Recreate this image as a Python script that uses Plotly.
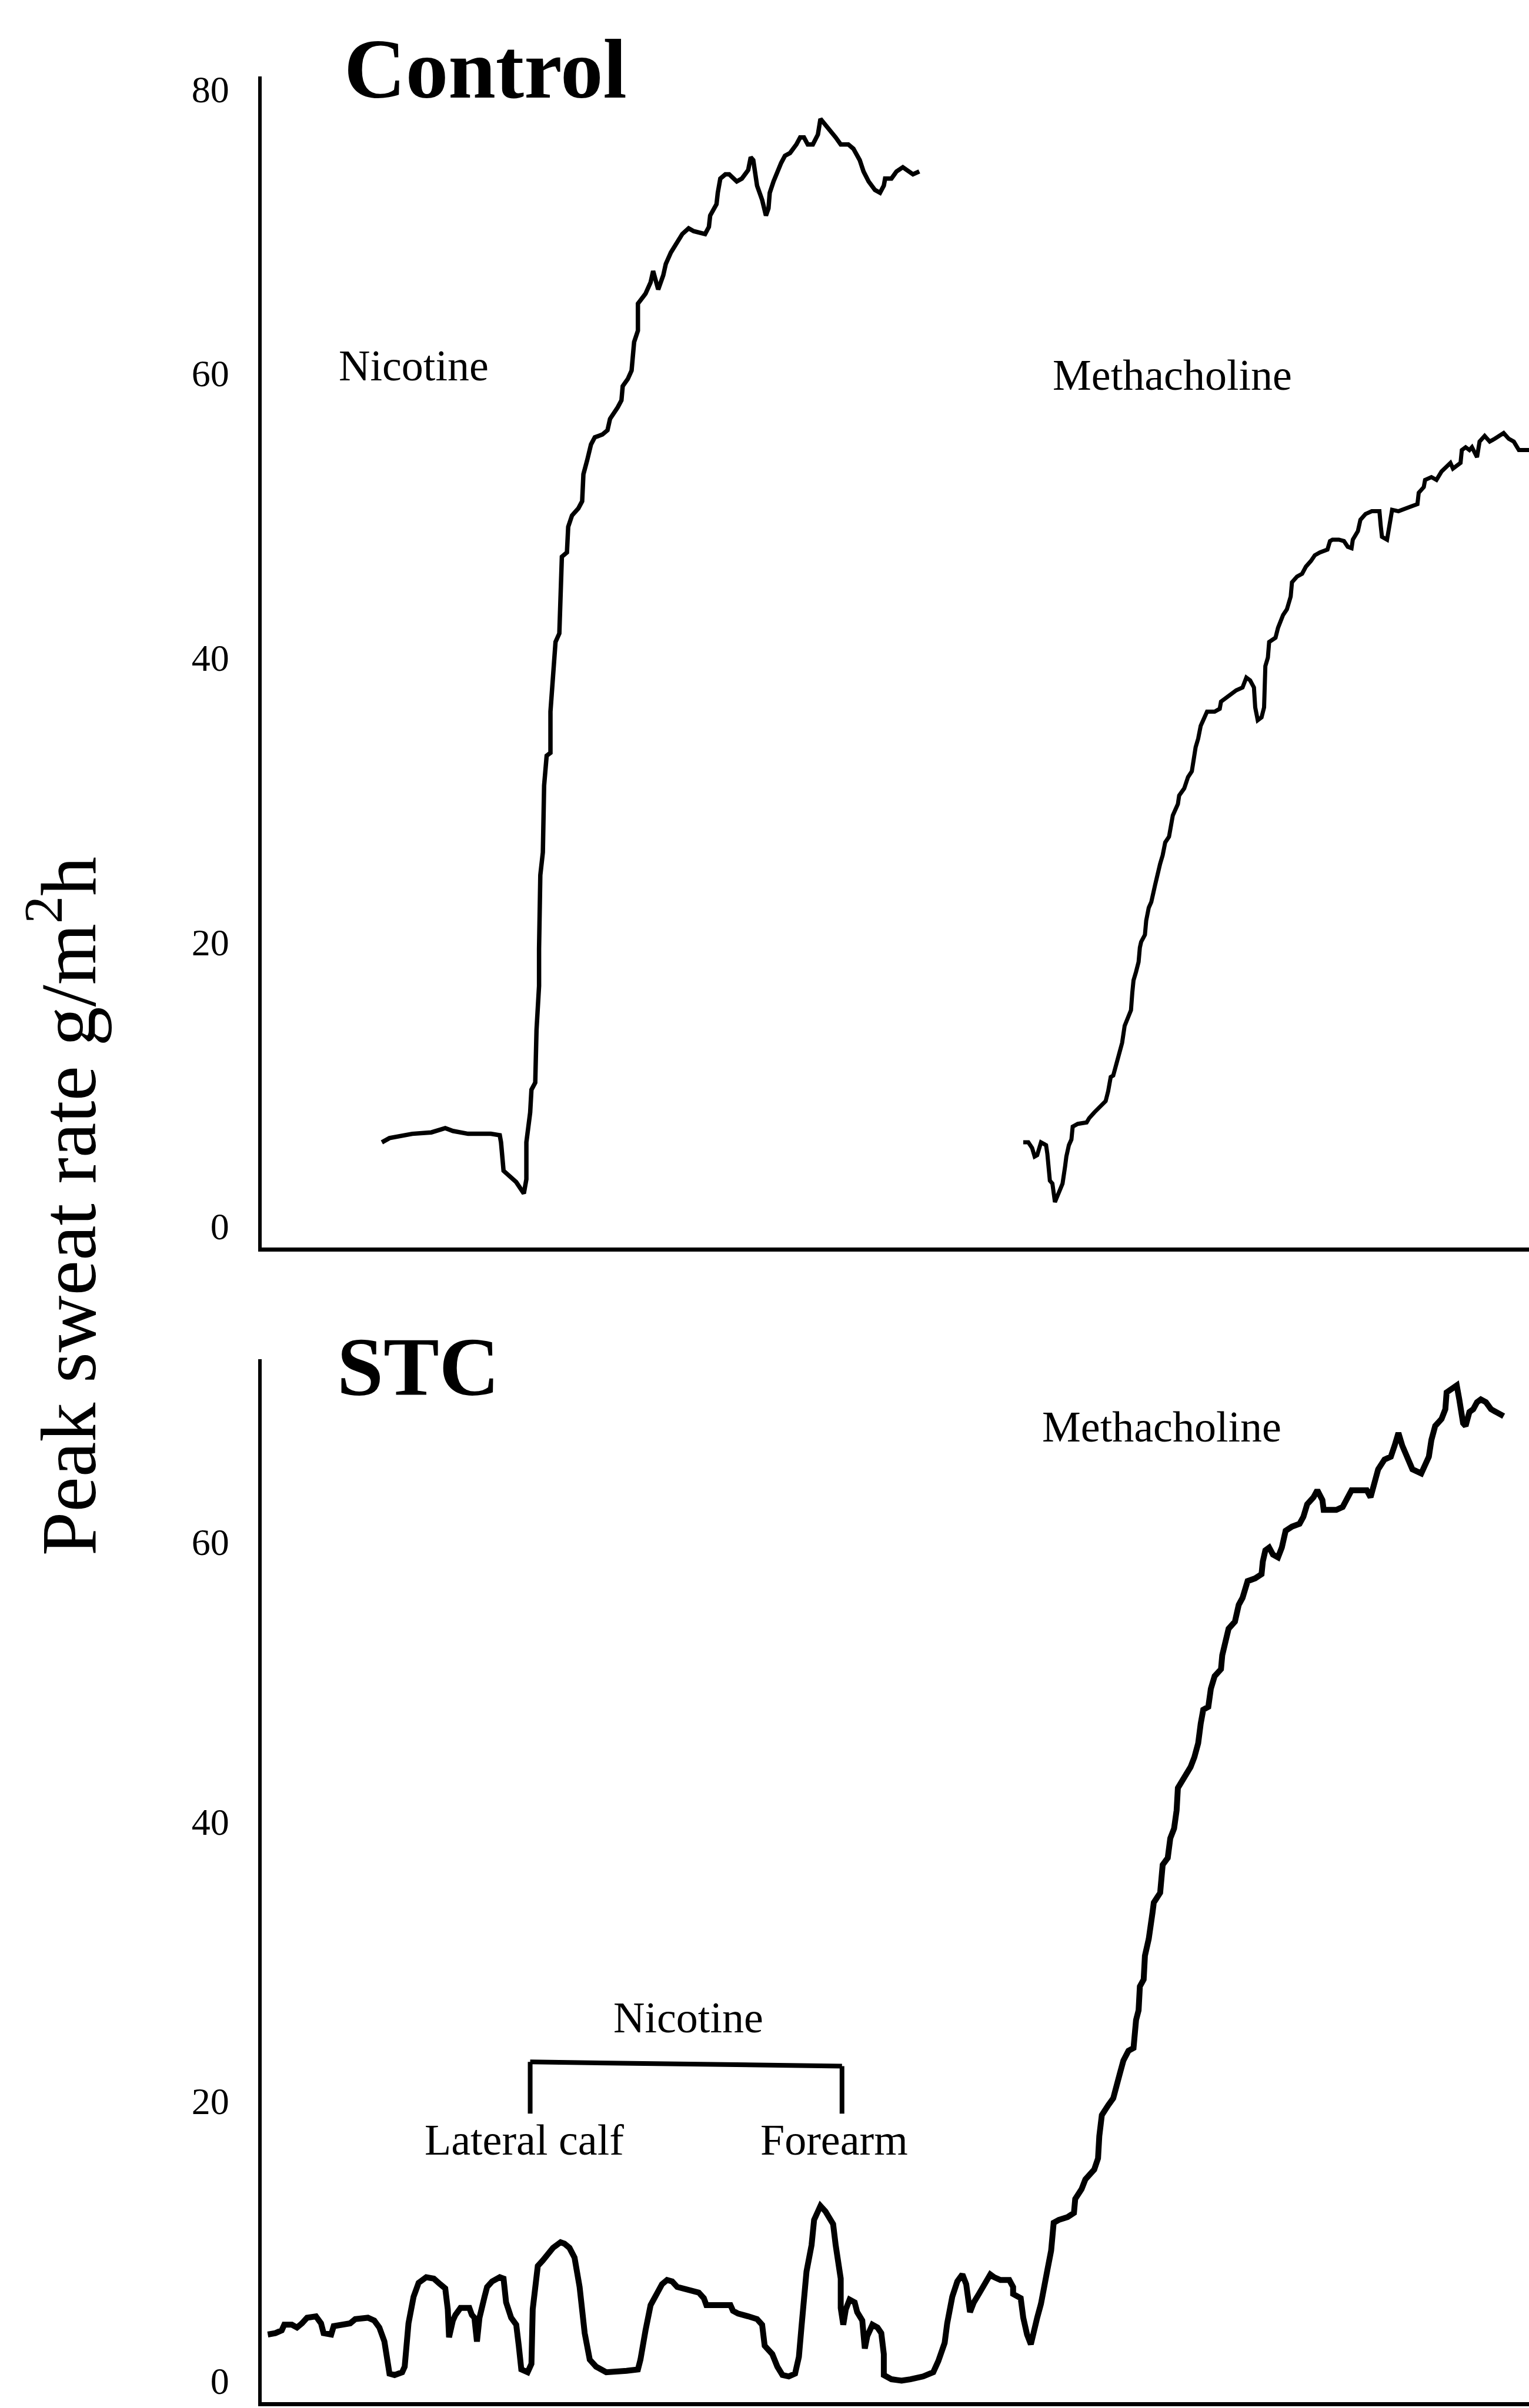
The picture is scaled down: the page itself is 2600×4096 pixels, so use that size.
import plotly.graph_objects as go

# ---- Control subject (top panel): time in arbitrary units, peak sweat rate in g/m2h ----
ctrl_nic_t = [
    9.5, 10.1, 11.9, 13.4, 14.5, 15.1, 16.3, 18.1, 18.8, 18.9,
    19.1, 19.5, 20.1, 20.7, 20.9, 20.9, 21.2, 21.3, 21.6, 21.7,
    21.9, 21.9, 22.0, 22.2, 22.3, 22.5, 22.8, 22.8, 23.1, 23.2,
    23.5, 23.6, 23.7, 24.1, 24.2, 24.5, 25.0, 25.3, 25.4, 25.7,
    26.0, 26.3, 26.9, 27.3, 27.5, 28.1, 28.4, 28.5, 28.9, 29.2,
    29.4, 29.7, 29.7, 30.3, 30.7, 30.9, 31.0, 31.3, 31.7, 31.9,
    32.3, 32.8, 33.2, 33.7, 34.1, 35.0, 35.3, 35.4, 35.9, 36.0,
    36.2, 36.6, 36.9, 37.5, 37.9, 38.4, 38.6, 38.8, 39.1, 39.5,
    39.8, 40.0, 40.1, 40.4, 40.7, 41.0, 41.3, 41.7, 42.2, 42.5,
    42.8, 43.1, 43.5, 43.9, 44.1, 44.4, 44.8, 45.3, 45.7, 46.3,
    46.7, 47.2, 47.5, 47.9, 48.4, 48.8, 49.1, 49.2, 49.7, 50.1,
    50.6, 51.0, 51.4, 51.9,
]
ctrl_nic_rate = [
    5.9, 6.2, 6.5, 6.6, 6.9, 6.7, 6.5, 6.5, 6.4, 5.9,
    3.9, 3.6, 3.1, 2.3, 3.3, 5.9, 8.0, 9.6, 10.1, 13.8,
    16.9, 19.5, 24.7, 26.3, 31.0, 33.1, 33.3, 36.2, 39.3, 41.1,
    41.7, 45.0, 47.1, 47.4, 49.2, 50.0, 50.5, 51.0, 52.9, 53.9,
    55.0, 55.5, 55.7, 56.0, 56.8, 57.6, 58.1, 59.1, 59.6, 60.2,
    62.2, 63.0, 64.9, 65.6, 66.4, 67.2, 66.9, 65.9, 66.9, 67.7,
    68.5, 69.3, 69.8, 70.2, 70.0, 69.8, 70.3, 71.1, 71.9, 72.7,
    73.7, 74.0, 74.0, 73.5, 73.7, 74.3, 75.2, 75.0, 73.2, 72.2,
    71.1, 71.6, 72.7, 73.5, 74.2, 74.8, 75.3, 75.5, 76.1, 76.6,
    76.6, 76.1, 76.1, 76.8, 77.9, 77.6, 77.1, 76.6, 76.1, 76.1,
    75.8, 75.0, 74.2, 73.5, 72.9, 72.7, 73.2, 73.7, 73.7, 74.2,
    74.5, 74.2, 74.0, 74.2,
]

ctrl_mch_t = [
    60.1, 60.5, 60.8, 61.0, 61.2, 61.5, 61.9, 62.0, 62.2, 62.4,
    62.6, 62.9, 63.2, 63.4, 63.5, 63.7, 63.9, 64.0, 64.4, 65.1,
    65.3, 65.7, 66.1, 66.6, 66.8, 67.0, 67.2, 67.5, 67.7, 67.9,
    68.1, 68.3, 68.6, 68.7, 68.8, 69.0, 69.2, 69.3, 69.4, 69.7,
    69.8, 70.0, 70.2, 70.5, 70.7, 70.9, 71.1, 71.3, 71.6, 71.8,
    71.9, 72.3, 72.4, 72.8, 73.1, 73.4, 73.5, 73.7, 73.9, 74.1,
    74.3, 74.6, 75.2, 75.6, 75.7, 76.3, 76.9, 77.4, 77.7, 78.0,
    78.3, 78.4, 78.6, 78.9, 79.1, 79.2, 79.4, 79.5, 80.0, 80.2,
    80.4, 80.6, 80.9, 81.2, 81.3, 81.7, 82.1, 82.4, 82.8, 83.1,
    83.5, 84.1, 84.3, 84.5, 85.0, 85.4, 85.7, 86.0, 86.1, 86.5,
    86.7, 87.1, 87.6, 88.2, 88.3, 88.4, 88.8, 89.0, 89.2, 89.7,
    90.1, 90.6, 91.2, 91.3, 91.7, 91.8, 92.3, 92.7, 93.1, 93.5,
    93.8, 94.0, 94.6, 94.7, 95.0, 95.3, 95.5, 95.9, 96.1, 96.5,
    96.9, 97.3, 98.0, 98.4, 98.8, 99.2, 100.0,
]
ctrl_mch_rate = [
    5.9, 5.9, 5.5, 4.9, 5.0, 5.9, 5.7, 5.1, 3.2, 3.0,
    1.7, 2.3, 3.0, 4.2, 4.9, 5.7, 6.1, 7.0, 7.2, 7.3,
    7.6, 8.0, 8.4, 8.8, 9.5, 10.5, 10.6, 11.6, 12.2, 12.9,
    14.1, 14.5, 15.2, 16.4, 17.3, 17.9, 18.6, 19.6, 20.0, 20.5,
    21.5, 22.4, 22.8, 24.0, 24.9, 25.5, 26.1, 27.0, 27.4, 28.2,
    28.9, 29.7, 30.3, 30.8, 31.6, 32.0, 32.7, 33.7, 34.3, 35.2,
    35.6, 36.2, 36.2, 36.4, 36.9, 37.3, 37.7, 37.9, 38.6, 38.4,
    37.9, 36.5, 35.6, 35.8, 36.5, 39.4, 40.0, 41.1, 41.4, 42.1,
    42.6, 43.0, 43.4, 44.3, 45.3, 45.7, 45.9, 46.4, 46.8, 47.2,
    47.4, 47.6, 48.2, 48.3, 48.3, 48.2, 47.8, 47.7, 48.3, 48.9,
    49.7, 50.1, 50.3, 50.3, 49.3, 48.5, 48.3, 49.5, 50.4, 50.3,
    50.4, 50.6, 50.8, 51.6, 52.0, 52.5, 52.7, 52.5, 53.1, 53.5,
    53.7, 53.3, 53.7, 54.6, 54.8, 54.6, 54.8, 54.1, 55.2, 55.6,
    55.2, 55.4, 55.8, 55.4, 55.2, 54.6, 54.6,
]

# ---- STC patient (bottom panel): nicotine at lateral calf and forearm, then methacholine ----
stc_t = [
    0.5, 1.1, 1.6, 1.8, 2.4, 2.8, 3.2, 3.6, 4.3, 4.7,
    4.9, 5.5, 5.7, 6.4, 7.0, 7.4, 8.4, 8.9, 9.3, 9.7,
    9.9, 10.1, 10.5, 11.1, 11.3, 11.6, 12.0, 12.4, 13.0, 13.6,
    14.1, 14.5, 14.7, 14.8, 15.1, 15.3, 15.7, 16.4, 16.6, 16.8,
    17.0, 17.2, 17.6, 17.8, 18.2, 18.8, 19.1, 19.3, 19.7, 20.1,
    20.3, 20.5, 21.0, 21.3, 21.4, 21.8, 22.2, 22.6, 23.0, 23.6,
    23.9, 24.3, 24.7, 25.1, 25.5, 25.9, 26.4, 27.2, 28.0, 28.8,
    29.7, 29.9, 30.3, 30.7, 31.3, 31.6, 32.0, 32.4, 32.8, 33.6,
    34.5, 34.9, 35.1, 36.4, 37.0, 37.2, 37.6, 38.4, 39.1, 39.5,
    39.7, 40.3, 40.7, 41.1, 41.6, 42.1, 42.4, 42.6, 42.8, 43.0,
    43.4, 43.6, 43.9, 44.1, 44.5, 45.1, 45.3, 45.5, 45.7, 45.7,
    45.9, 46.1, 46.4, 46.8, 47.0, 47.4, 47.6, 47.8, 48.2, 48.6,
    48.9, 49.1, 49.1, 49.7, 50.5, 51.2, 52.2, 53.0, 53.4, 53.9,
    54.1, 54.5, 54.9, 55.3, 55.6, 55.9, 56.2, 56.6, 56.9, 57.2,
    57.5, 57.8, 58.3, 59.0, 59.3, 59.3, 59.9, 60.1, 60.4, 60.7,
    60.9, 61.2, 61.5, 61.7, 62.0, 62.3, 62.5, 62.9, 63.6, 64.1,
    64.2, 64.7, 65.0, 65.7, 66.0, 66.1, 66.3, 66.8, 67.2, 67.7,
    68.0, 68.4, 68.8, 69.0, 69.2, 69.3, 69.6, 69.7, 70.0, 70.3,
    70.4, 70.9, 71.1, 71.5, 71.7, 72.0, 72.2, 72.3, 72.8, 73.3,
    73.6, 73.9, 74.1, 74.3, 74.7, 74.9, 75.2, 75.7, 75.8, 76.0,
    76.3, 76.8, 77.1, 77.4, 77.8, 78.4, 78.9, 79.0, 79.2, 79.5,
    79.8, 80.2, 80.5, 80.8, 81.3, 81.9, 82.2, 82.5, 83.0, 83.3,
    83.7, 83.8, 84.3, 84.8, 85.3, 85.7, 86.0, 86.5, 87.2, 87.5,
    87.8, 88.1, 88.6, 89.1, 89.4, 89.7, 90.0, 90.5, 90.8, 91.5,
    91.8, 92.1, 92.3, 92.6, 93.1, 93.4, 93.5, 94.0, 94.3, 94.5,
    94.8, 95.0, 95.3, 95.6, 95.9, 96.2, 96.6, 97.0, 97.5, 98.0,
]
stc_rate = [
    3.3, 3.4, 3.6, 4.0, 4.0, 3.8, 4.1, 4.5, 4.6, 4.1,
    3.4, 3.3, 3.9, 4.0, 4.1, 4.4, 4.5, 4.3, 3.8, 2.8,
    1.4, 0.5, 0.4, 0.6, 1.0, 4.1, 6.0, 7.0, 7.4, 7.3,
    6.9, 6.6, 5.1, 3.1, 4.3, 4.7, 5.2, 5.2, 4.7, 4.5,
    2.8, 4.5, 6.0, 6.7, 7.1, 7.4, 7.3, 5.6, 4.5, 4.0,
    2.5, 0.8, 0.6, 1.2, 5.1, 8.2, 8.6, 9.1, 9.5, 9.9,
    9.8, 9.5, 8.8, 6.7, 3.4, 1.5, 1.0, 0.6, 0.6, 0.7,
    0.8, 1.5, 3.6, 5.4, 6.4, 6.9, 7.2, 7.1, 6.7, 6.5,
    6.3, 5.9, 5.4, 5.4, 5.4, 5.0, 4.8, 4.6, 4.4, 4.0,
    2.5, 1.9, 1.0, 0.4, 0.3, 0.5, 1.7, 3.8, 6.0, 7.8,
    9.7, 11.5, 12.1, 12.5, 12.1, 11.2, 9.7, 8.6, 7.3, 5.2,
    4.0, 5.1, 5.8, 5.6, 4.9, 4.3, 2.3, 3.2, 4.0, 3.8,
    3.4, 1.9, 0.4, 0.1, 0.0, 0.1, 0.3, 0.6, 1.4, 2.7,
    4.1, 6.0, 7.1, 7.6, 6.9, 4.9, 5.6, 6.2, 6.7, 7.2,
    7.6, 7.4, 7.2, 7.2, 6.7, 6.2, 5.9, 4.5, 3.3, 2.6,
    3.5, 4.5, 5.5, 6.7, 7.9, 9.3, 11.3, 11.5, 11.7, 12.0,
    13.0, 13.7, 14.4, 15.1, 15.9, 17.5, 19.0, 19.7, 20.2, 21.9,
    22.9, 23.6, 23.8, 25.8, 26.5, 28.2, 28.7, 30.4, 31.6, 33.5,
    34.2, 34.9, 36.9, 37.4, 38.8, 39.5, 40.8, 42.4, 43.2, 43.9,
    44.6, 45.6, 47.0, 48.0, 48.2, 49.5, 50.4, 50.9, 51.9, 52.8,
    53.8, 54.3, 55.5, 56.0, 57.2, 57.4, 57.7, 58.6, 59.4, 59.6,
    59.1, 58.9, 59.6, 60.8, 61.1, 61.3, 61.8, 62.7, 63.2, 63.7,
    63.0, 62.3, 62.3, 62.3, 62.5, 63.2, 63.7, 63.7, 63.7, 63.2,
    64.2, 65.2, 65.9, 66.1, 66.9, 67.8, 66.9, 65.9, 65.2, 64.9,
    65.4, 66.1, 67.3, 68.3, 68.8, 69.5, 70.7, 71.0, 71.2, 70.2,
    68.5, 68.3, 69.3, 69.5, 70.0, 70.2, 70.0, 69.5, 69.3, 69.0,
]

top_ticks = [0, 20, 40, 60, 80]
bottom_ticks = [0, 20, 40, 60]

SERIF = "Liberation Serif"
W, H = 2600, 4096

fig = go.Figure()
fig.add_trace(go.Scatter(x=ctrl_nic_t, y=ctrl_nic_rate, mode="lines",
                         line=dict(color="black", width=7.5), xaxis="x", yaxis="y"))
fig.add_trace(go.Scatter(x=ctrl_mch_t, y=ctrl_mch_rate, mode="lines",
                         line=dict(color="black", width=7), xaxis="x", yaxis="y"))
fig.add_trace(go.Scatter(x=stc_t, y=stc_rate, mode="lines",
                         line=dict(color="black", width=10), xaxis="x2", yaxis="y2"))

common = dict(showgrid=False, zeroline=False, showline=True, linecolor="black")
xdom = [0.171, 1.0]

def yaxis_style(domain, rng, ticks):
    return dict(domain=domain, range=rng, tickvals=ticks, ticks="outside", ticklen=36,
                tickcolor="rgba(0,0,0,0)", linewidth=6,
                tickfont=dict(family=SERIF, size=64, color="black"), **common)

fig.update_layout(
    width=W, height=H, margin=dict(l=0, r=0, t=0, b=0),
    paper_bgcolor="white", plot_bgcolor="white", showlegend=False,
    xaxis=dict(domain=xdom, range=[0, 100], anchor="y", showticklabels=False,
               ticks="", linewidth=7, **common),
    yaxis=dict(anchor="x", **yaxis_style([0.4834, 0.9713], [-1.51, 80.88], top_ticks)),
    xaxis2=dict(domain=xdom, range=[0, 100], anchor="y2", showticklabels=False,
                ticks="", linewidth=7, **common),
    yaxis2=dict(anchor="x2", **yaxis_style([0.00255, 0.4369], [-1.52, 73.07], bottom_ticks)),
)

def label(text, x, y, size, bold=False, angle=0):
    fig.add_annotation(text=f"<b>{text}</b>" if bold else text, x=x, y=y,
                       xref="paper", yref="paper", showarrow=False,
                       xanchor="center", yanchor="middle", textangle=angle,
                       font=dict(family=SERIF, size=size, color="black"))

label("Control", 0.3176, 0.9745, 145, bold=True)
label("STC", 0.2734, 0.4337, 142, bold=True)
label("Nicotine", 0.2704, 0.8508, 74)
label("Methacholine", 0.7668, 0.8469, 74)
label("Methacholine", 0.7598, 0.4088, 74)
label("Nicotine", 0.4503, 0.1626, 74)
label("Lateral calf", 0.3427, 0.1116, 74)
label("Forearm", 0.5457, 0.1116, 74)
label("Peak sweat rate g/m<sup>2</sup>h", 0.0405, 0.5006, 134, angle=-90)

# bracket grouping the two nicotine sites
bracket = dict(type="line", xref="x2", yref="y2", line=dict(color="black", width=8))
fig.add_shape(x0=21.2, x1=45.8, y0=22.8, y1=22.5, **bracket)
fig.add_shape(x0=21.2, x1=21.2, y0=22.8, y1=19.1, **bracket)
fig.add_shape(x0=45.8, x1=45.8, y0=22.5, y1=19.1, **bracket)

fig.write_html("out.html")
